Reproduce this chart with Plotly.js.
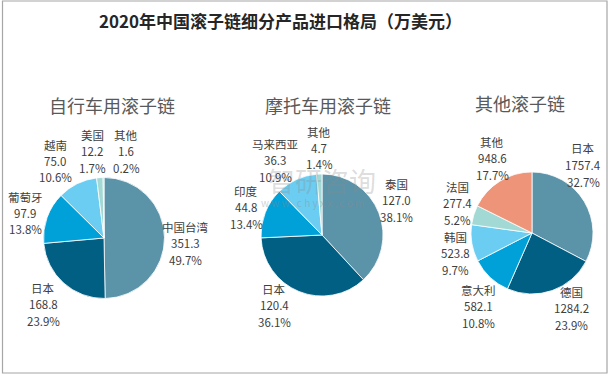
<!DOCTYPE html>
<html>
<head>
<meta charset="utf-8">
<script src="https://cdn.plot.ly/plotly-3.0.1.min.js"></script>
<style>html,body{margin:0;padding:0;background:#fff;}#chart{width:612px;height:378px;}</style>
</head>
<body>
<div id="chart"></div>
<script>
// ---- data ----
const chartTitle = "2020年中国滚子链细分产品进口格局（万美元）";
const bikeTitle = "自行车用滚子链";
const bikeLabels = ["中国台湾", "日本", "葡萄牙", "越南", "美国", "其他"];
const bikeValues = [351.3, 168.8, 97.9, 75.0, 12.2, 1.6];
const bikePercents = ["49.7%", "23.9%", "13.8%", "10.6%", "1.7%", "0.2%"];
const motoTitle = "摩托车用滚子链";
const motoLabels = ["泰国", "日本", "印度", "马来西亚", "其他"];
const motoValues = [127.0, 120.4, 44.8, 36.3, 4.7];
const motoPercents = ["38.1%", "36.1%", "13.4%", "10.9%", "1.4%"];
const otherTitle = "其他滚子链";
const otherLabels = ["日本", "德国", "意大利", "韩国", "法国", "其他"];
const otherValues = [1757.4, 1284.2, 582.1, 523.8, 277.4, 948.6];
const otherPercents = ["32.7%", "23.9%", "10.8%", "9.7%", "5.2%", "17.7%"];

// ---- styling / layout ----
const W = 612, H = 378;
const px = x => x / W;
const py = y => 1 - y / H;
const FONT = '"Noto Sans CJK SC", "Noto Sans", sans-serif';
const baseColors = ["#5B93A9", "#005F83", "#00A0D8", "#6CCDF2", "#A2D9D4", "#EE9479"];
const motoColors = ["#5B93A9", "#005F83", "#00A0D8", "#6CCDF2", "#A2D9D4"];

const pies = [
  {title: bikeTitle, labels: bikeLabels, values: bikeValues, pcts: bikePercents, colors: baseColors,
   cx: 104, cy: 238, r: 60.5, tx: 112, ty: 105,
   pos: [[186, 243], [43, 304], [25, 213], [55, 161], [92, 151], [126, 151]]},
  {title: motoTitle, labels: motoLabels, values: motoValues, pcts: motoPercents, colors: motoColors,
   cx: 322, cy: 235, r: 61, tx: 328, ty: 105,
   pos: [[396, 200], [274, 305], [246, 207], [275, 160], [319, 148]]},
  {title: otherTitle, labels: otherLabels, values: otherValues, pcts: otherPercents, colors: baseColors,
   cx: 532, cy: 233, r: 61, tx: 520, ty: 103,
   pos: [[583, 165], [571, 308], [478, 306], [455, 253], [457, 203], [492, 158]]}
];

const traces = [];
const annotations = [];
const LINE = 16.5;

// watermark (drawn first so it sits behind the labels)
annotations.push({text: '智研咨询', x: px(322), y: py(180), xref: 'paper', yref: 'paper',
  xanchor: 'center', yanchor: 'middle', showarrow: false,
  font: {family: FONT, size: 27, color: 'rgba(140,140,140,0.3)'}});
annotations.push({text: 'w w w . c h y x x . c o m', x: px(312), y: py(202), xref: 'paper', yref: 'paper',
  xanchor: 'center', yanchor: 'middle', showarrow: false,
  font: {family: FONT, size: 10, color: 'rgba(140,140,140,0.4)'}});

pies.forEach(p => {
  traces.push({
    type: 'pie', labels: p.labels, values: p.values, sort: false,
    direction: 'clockwise', rotation: 0, textinfo: 'none', hoverinfo: 'label+value+percent',
    marker: {colors: p.colors, line: {color: '#ffffff', width: 0.8}},
    domain: {x: [px(p.cx - p.r), px(p.cx + p.r)], y: [py(p.cy + p.r), py(p.cy - p.r)]},
    showlegend: false
  });
  annotations.push({text: p.title, x: px(p.tx), y: py(p.ty), xref: 'paper', yref: 'paper',
    xanchor: 'center', yanchor: 'middle', showarrow: false,
    font: {family: FONT, size: 18, color: '#595959'}});
  p.labels.forEach((lab, i) => {
    const lines = [lab, p.values[i].toFixed(1), p.pcts[i]];
    const [x, y] = p.pos[i];
    lines.forEach((t, k) => {
      annotations.push({text: t, x: px(x), y: py(y + (k - 1) * LINE), xref: 'paper', yref: 'paper',
        xanchor: 'center', yanchor: 'middle', showarrow: false,
        font: {family: FONT, size: 11.5, color: '#404040'}});
    });
  });
});

// title
annotations.push({text: '<b>' + chartTitle + '</b>', x: px(280), y: py(20), xref: 'paper', yref: 'paper',
  xanchor: 'center', yanchor: 'middle', showarrow: false,
  font: {family: FONT, size: 17, color: '#262626'}});

const layout = {
  width: W, height: H,
  margin: {l: 0, r: 0, t: 0, b: 0},
  paper_bgcolor: '#ffffff',
  showlegend: false,
  annotations: annotations,
  shapes: [{type: 'rect', xref: 'paper', yref: 'paper',
    x0: px(2.5), x1: px(607), y0: py(373), y1: py(1),
    line: {color: '#A6A6A6', width: 1.2}, fillcolor: 'rgba(0,0,0,0)'}]
};

Plotly.newPlot('chart', traces, layout, {displayModeBar: false, staticPlot: true});
</script>
</body>
</html>
